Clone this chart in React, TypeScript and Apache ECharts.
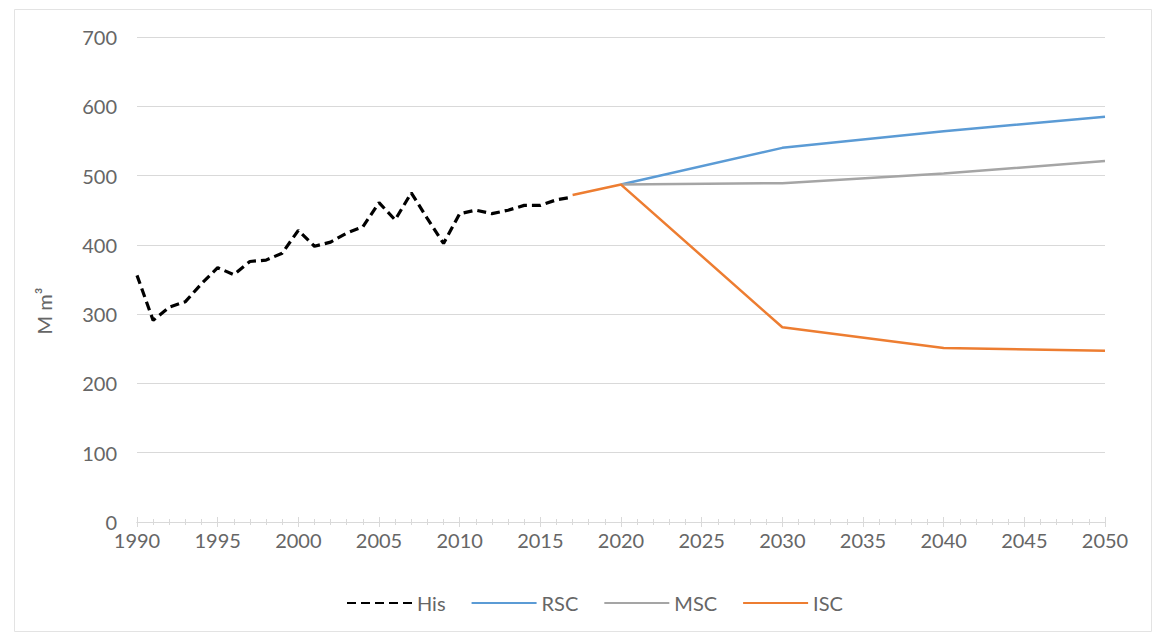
import React, { useEffect, useRef } from "react";
import * as echarts from "echarts";

const hisData: [number, number][] = [
  [1990, 356], [1991, 291], [1992, 310], [1993, 318], [1994, 344],
  [1995, 367], [1996, 357], [1997, 376], [1998, 378], [1999, 388],
  [2000, 421], [2001, 398], [2002, 404], [2003, 417], [2004, 426],
  [2005, 461], [2006, 436], [2007, 475], [2008, 438], [2009, 402],
  [2010, 445], [2011, 450], [2012, 445], [2013, 450], [2014, 457],
  [2015, 457], [2016, 465], [2017, 469],
];
const rscData: [number, number][] = [[2020, 487], [2030, 540], [2040, 564], [2050, 585]];
const mscData: [number, number][] = [[2020, 487], [2030, 489], [2040, 503], [2050, 521]];
const iscData: [number, number][] = [[2017, 472], [2020, 487], [2030, 281], [2040, 251], [2050, 247]];

const seriesNames = ["His", "RSC", "MSC", "ISC"];
const yAxisTitle = "M m\u00B3";

const FONT = "Lato";
const LABEL = "#666666";
const GRID = "#d9d9d9";

export default function App() {
  const ref = useRef<HTMLDivElement>(null);
  useEffect(() => {
    if (!ref.current) return;
    const chart = echarts.init(ref.current, null, { renderer: "svg" });
    const xAxisBase = {
      type: "value",
      min: 1990,
      max: 2050,
      interval: 5,
      splitLine: { show: false },
      axisLine: { show: true, lineStyle: { color: GRID, width: 1 } },
      minorTick: { show: true, splitNumber: 5, length: 3, lineStyle: { color: GRID } },
    };
    chart.setOption({
      animation: false,
      backgroundColor: "#ffffff",
      textStyle: { fontFamily: FONT },
      grid: { left: 137, right: 49, top: 37, bottom: 113 },
      xAxis: [
        {
          ...xAxisBase,
          axisTick: { show: true, length: 5, lineStyle: { color: GRID } },
          axisLabel: {
            show: true,
            color: LABEL,
            fontSize: 20,
            fontFamily: FONT,
            margin: 8,
            formatter: (v: number) => String(v),
          },
        },
        {
          ...xAxisBase,
          position: "bottom",
          axisTick: { show: true, inside: true, length: 5, lineStyle: { color: GRID } },
          minorTick: { show: true, splitNumber: 5, length: 3, lineStyle: { color: GRID } },
          axisLabel: { show: false },
        },
      ],
      yAxis: {
        type: "value",
        min: 0,
        max: 700,
        interval: 100,
        axisLine: { show: false },
        axisTick: { show: false },
        axisLabel: { color: LABEL, fontSize: 20, fontFamily: FONT, margin: 20 },
        splitLine: { lineStyle: { color: GRID, width: 1 } },
      },
      legend: {
        data: seriesNames,
        left: 341,
        top: 588,
        itemWidth: 65,
        itemHeight: 14,
        itemGap: 25,
        itemStyle: { opacity: 0 },
        textStyle: { color: LABEL, fontSize: 20, fontFamily: FONT },
      },
      graphic: [
        {
          type: "rect",
          shape: { x: 14.5, y: 9.5, width: 1137, height: 622 },
          style: { fill: "none", stroke: "#e3e3e3", lineWidth: 1 },
          silent: true,
          z: -1,
        },
        {
          type: "text",
          x: 44,
          y: 311,
          rotation: Math.PI / 2,
          style: {
            text: yAxisTitle,
            fill: LABEL,
            font: `20px ${FONT}`,
            align: "center",
            verticalAlign: "middle",
          },
        },
      ],
      series: [
        {
          name: "His",
          type: "line",
          data: hisData,
          symbol: "none",
          lineStyle: { color: "#000000", width: 3.2, type: [9, 5] },
          itemStyle: { color: "#000000" },
          z: 5,
        },
        {
          name: "RSC",
          type: "line",
          data: rscData,
          symbol: "none",
          lineStyle: { color: "#5B9BD5", width: 2.5 },
          itemStyle: { color: "#5B9BD5" },
        },
        {
          name: "MSC",
          type: "line",
          data: mscData,
          symbol: "none",
          lineStyle: { color: "#A5A5A5", width: 2.5 },
          itemStyle: { color: "#A5A5A5" },
        },
        {
          name: "ISC",
          type: "line",
          data: iscData,
          symbol: "none",
          lineStyle: { color: "#ED7D31", width: 2.5 },
          itemStyle: { color: "#ED7D31" },
          z: 4,
        },
      ],
    });
    return () => chart.dispose();
  }, []);
  return (
    <div
      ref={ref}
      style={{ position: "absolute", left: 0, top: 0, width: 1154, height: 635 }}
    />
  );
}
